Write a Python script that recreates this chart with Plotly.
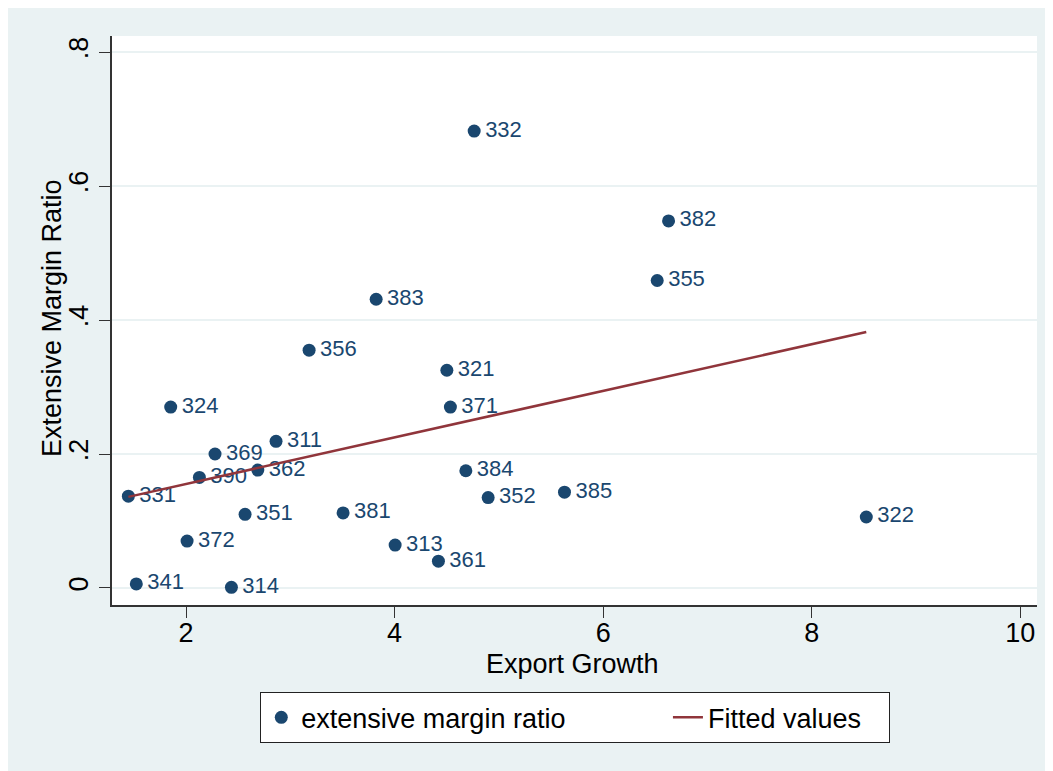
import plotly.graph_objects as go

# ---- data ----
labels = ["332", "382", "355", "383", "356", "321", "371", "384", "352", "385",
          "361", "322", "324", "369", "390", "362", "311", "331", "351", "372",
          "341", "314", "381", "313"]
export_growth = [4.763, 6.627, 6.518, 3.823, 3.180, 4.501, 4.535, 4.683, 4.897, 5.629,
                 4.420, 8.523, 1.853, 2.278, 2.128, 2.688, 2.863, 1.447, 2.566, 2.010,
                 1.523, 2.435, 3.506, 4.005]
ext_margin_ratio = [0.682, 0.548, 0.459, 0.431, 0.355, 0.325, 0.270, 0.175, 0.135, 0.143,
                    0.040, 0.106, 0.270, 0.200, 0.165, 0.176, 0.219, 0.137, 0.110, 0.070,
                    0.006, 0.001, 0.112, 0.064]
fit_x = [1.447, 8.523]
fit_y = [0.136, 0.382]

x_ticks = [2, 4, 6, 8, 10]
x_ticktext = ["2", "4", "6", "8", "10"]
y_ticks = [0, 0.2, 0.4, 0.6, 0.8]
y_ticktext = ["0", ".2", ".4", ".6", ".8"]

x_title = "Export Growth"
y_title = "Extensive Margin Ratio"
series_name = "extensive margin ratio"
fit_name = "Fitted values"

NAVY = "#1a476f"
MAROON = "#90353b"
BG = "#eaf2f3"
FONT = "Liberation Sans, Arial, sans-serif"
NBSP = "\u00a0"

fig = go.Figure()
fig.add_trace(go.Scatter(
    x=export_growth, y=ext_margin_ratio, mode="markers+text",
    text=labels, texttemplate="\u200a%{text}", textposition="middle right",
    textfont=dict(family=FONT, size=22, color=NAVY),
    marker=dict(color=NAVY, size=13, line=dict(width=0)),
    name=series_name + NBSP * 13, cliponaxis=False,
))
fig.add_trace(go.Scatter(
    x=fit_x, y=fit_y, mode="lines",
    line=dict(color=MAROON, width=2.5),
    name=fit_name + NBSP * 3,
))

# page has an 8px body margin: figure drawn 8px right/down
W, H = 1045, 763
L, T, R, B = 104, 28, 16, 166
pw, ph = W - L - R, H - T - B

fig.update_layout(
    width=W, height=H,
    margin=dict(l=L, r=R, t=T, b=B, autoexpand=False),
    paper_bgcolor=BG, plot_bgcolor="white",
    font=dict(family=FONT, size=27, color="black"),
    showlegend=True,
    legend=dict(
        orientation="h", x=(252 - L) / pw, xanchor="left",
        y=(T + ph - 684) / ph, yanchor="top",
        bgcolor="white", bordercolor="#222222", borderwidth=1.3,
        font=dict(family=FONT, size=27, color="black"),
    ),
    xaxis=dict(
        range=[1.29, 10.16], tickmode="array", tickvals=x_ticks, ticktext=x_ticktext,
        showgrid=False, zeroline=False, showline=True, linecolor="#333333", linewidth=1.5,
        ticks="outside", ticklen=11, tickwidth=1.3, tickcolor="#333333",
        tickfont=dict(family=FONT, size=27, color="black"),
        ticklabelstandoff=-8,
        automargin=False,
    ),
    yaxis=dict(
        range=[-0.0254, 0.824], tickmode="array", tickvals=y_ticks, ticktext=y_ticktext,
        tickangle=-90,
        showgrid=True, gridcolor=BG, gridwidth=2, zeroline=False,
        showline=True, linecolor="#333333", linewidth=1.5,
        ticks="outside", ticklen=11, tickwidth=1.3, tickcolor="#333333",
        tickfont=dict(family=FONT, size=27, color="black"),
        automargin=False,
    ),
    annotations=[
        dict(text=x_title, xref="paper", yref="paper",
             x=(564 - L) / pw, y=(T + ph - 656) / ph, xanchor="center", yanchor="middle",
             showarrow=False, font=dict(family=FONT, size=27, color="black")),
        dict(text=y_title, xref="paper", yref="paper", textangle=-90,
             x=(44 - L) / pw, y=(T + ph - 310) / ph, xanchor="center", yanchor="middle",
             showarrow=False, font=dict(family=FONT, size=27, color="black")),
    ],
)

fig.write_html("out.html")
